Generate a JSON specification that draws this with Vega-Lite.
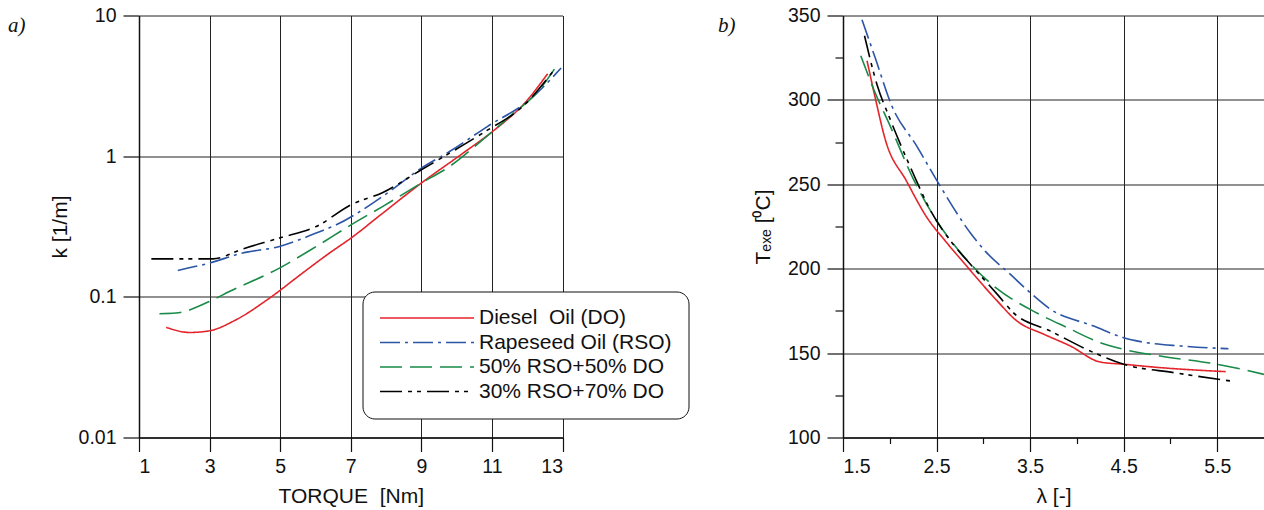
{
  "$schema": "https://vega.github.io/schema/vega-lite/v6.json",
  "background": "white",
  "padding": {"left": 8, "top": 5.5, "right": 0, "bottom": 0},
  "bounds": "flush",
  "spacing": 280,
  "config": {
    "font": "Liberation Sans",
    "view": {"stroke": null},
    "axis": {
      "labelFont": "Liberation Sans", "labelFontSize": 19.5, "labelColor": "#111",
      "titleFont": "Liberation Sans", "titleFontSize": 21, "titleFontWeight": "normal", "titleColor": "#111",
      "domainColor": "#111", "domainWidth": 1.5, "tickColor": "#111", "tickWidth": 1.2,
      "gridColor": "#222", "gridWidth": 1, "gridOpacity": 1, "labelPadding": 6
    },
    "legend": {
      "labelFont": "Liberation Sans", "labelFontSize": 21, "labelColor": "#111", "labelLimit": 400
    }
  },
  "datasets": {
    "torque": [
      {"series": "Diesel\u00a0 Oil (DO)", "torque": 1.77, "k": 0.0607},
      {"series": "Diesel\u00a0 Oil (DO)", "torque": 2.43, "k": 0.0558},
      {"series": "Diesel\u00a0 Oil (DO)", "torque": 3.0, "k": 0.0574},
      {"series": "Diesel\u00a0 Oil (DO)", "torque": 3.75, "k": 0.0687},
      {"series": "Diesel\u00a0 Oil (DO)", "torque": 4.7, "k": 0.098},
      {"series": "Diesel\u00a0 Oil (DO)", "torque": 5.64, "k": 0.148},
      {"series": "Diesel\u00a0 Oil (DO)", "torque": 6.4, "k": 0.205},
      {"series": "Diesel\u00a0 Oil (DO)", "torque": 7.01, "k": 0.262},
      {"series": "Diesel\u00a0 Oil (DO)", "torque": 7.91, "k": 0.394},
      {"series": "Diesel\u00a0 Oil (DO)", "torque": 9.0, "k": 0.644},
      {"series": "Diesel\u00a0 Oil (DO)", "torque": 10.18, "k": 1.05},
      {"series": "Diesel\u00a0 Oil (DO)", "torque": 11.02, "k": 1.5},
      {"series": "Diesel\u00a0 Oil (DO)", "torque": 11.97, "k": 2.45},
      {"series": "Diesel\u00a0 Oil (DO)", "torque": 12.58, "k": 3.86},
      {"series": "Rapeseed Oil (RSO)", "torque": 2.1, "k": 0.154},
      {"series": "Rapeseed Oil (RSO)", "torque": 3.0, "k": 0.174},
      {"series": "Rapeseed Oil (RSO)", "torque": 3.94, "k": 0.205},
      {"series": "Rapeseed Oil (RSO)", "torque": 4.98, "k": 0.228},
      {"series": "Rapeseed Oil (RSO)", "torque": 6.02, "k": 0.284},
      {"series": "Rapeseed Oil (RSO)", "torque": 6.59, "k": 0.325},
      {"series": "Rapeseed Oil (RSO)", "torque": 7.34, "k": 0.416},
      {"series": "Rapeseed Oil (RSO)", "torque": 8.1, "k": 0.561},
      {"series": "Rapeseed Oil (RSO)", "torque": 9.0, "k": 0.822},
      {"series": "Rapeseed Oil (RSO)", "torque": 9.8, "k": 1.08},
      {"series": "Rapeseed Oil (RSO)", "torque": 10.88, "k": 1.63},
      {"series": "Rapeseed Oil (RSO)", "torque": 12.07, "k": 2.52},
      {"series": "Rapeseed Oil (RSO)", "torque": 12.96, "k": 4.23},
      {"series": "50% RSO+50% DO", "torque": 1.58, "k": 0.0759},
      {"series": "50% RSO+50% DO", "torque": 2.05, "k": 0.0767},
      {"series": "50% RSO+50% DO", "torque": 3.0, "k": 0.0927},
      {"series": "50% RSO+50% DO", "torque": 3.56, "k": 0.109},
      {"series": "50% RSO+50% DO", "torque": 4.98, "k": 0.16},
      {"series": "50% RSO+50% DO", "torque": 6.02, "k": 0.228},
      {"series": "50% RSO+50% DO", "torque": 7.01, "k": 0.325},
      {"series": "50% RSO+50% DO", "torque": 7.91, "k": 0.44},
      {"series": "50% RSO+50% DO", "torque": 9.0, "k": 0.644},
      {"series": "50% RSO+50% DO", "torque": 9.8, "k": 0.845},
      {"series": "50% RSO+50% DO", "torque": 10.74, "k": 1.31},
      {"series": "50% RSO+50% DO", "torque": 11.5, "k": 1.91},
      {"series": "50% RSO+50% DO", "torque": 12.35, "k": 2.97},
      {"series": "50% RSO+50% DO", "torque": 12.77, "k": 4.16},
      {"series": "30% RSO+70% DO", "torque": 1.35, "k": 0.186},
      {"series": "30% RSO+70% DO", "torque": 3.09, "k": 0.186},
      {"series": "30% RSO+70% DO", "torque": 3.94, "k": 0.219},
      {"series": "30% RSO+70% DO", "torque": 4.98, "k": 0.262},
      {"series": "30% RSO+70% DO", "torque": 6.02, "k": 0.316},
      {"series": "30% RSO+70% DO", "torque": 7.01, "k": 0.452},
      {"series": "30% RSO+70% DO", "torque": 7.91, "k": 0.552},
      {"series": "30% RSO+70% DO", "torque": 9.0, "k": 0.8},
      {"series": "30% RSO+70% DO", "torque": 9.8, "k": 1.05},
      {"series": "30% RSO+70% DO", "torque": 10.74, "k": 1.46},
      {"series": "30% RSO+70% DO", "torque": 11.97, "k": 2.38},
      {"series": "30% RSO+70% DO", "torque": 12.73, "k": 4.0}
    ],
    "lambda": [
      {"series": "Diesel\u00a0 Oil (DO)", "lambda": 1.757, "T": 323.2},
      {"series": "Diesel\u00a0 Oil (DO)", "lambda": 1.845, "T": 301.1},
      {"series": "Diesel\u00a0 Oil (DO)", "lambda": 1.952, "T": 276.5},
      {"series": "Diesel\u00a0 Oil (DO)", "lambda": 2.18, "T": 251.8},
      {"series": "Diesel\u00a0 Oil (DO)", "lambda": 2.4, "T": 230.1},
      {"series": "Diesel\u00a0 Oil (DO)", "lambda": 2.6, "T": 216},
      {"series": "Diesel\u00a0 Oil (DO)", "lambda": 2.83, "T": 201},
      {"series": "Diesel\u00a0 Oil (DO)", "lambda": 3.13, "T": 182},
      {"series": "Diesel\u00a0 Oil (DO)", "lambda": 3.36, "T": 169},
      {"series": "Diesel\u00a0 Oil (DO)", "lambda": 3.65, "T": 161.1},
      {"series": "Diesel\u00a0 Oil (DO)", "lambda": 3.93, "T": 154.2},
      {"series": "Diesel\u00a0 Oil (DO)", "lambda": 4.25, "T": 144.7},
      {"series": "Diesel\u00a0 Oil (DO)", "lambda": 4.5, "T": 143.4},
      {"series": "Diesel\u00a0 Oil (DO)", "lambda": 4.89, "T": 141.4},
      {"series": "Diesel\u00a0 Oil (DO)", "lambda": 5.59, "T": 139.0},
      {"series": "Rapeseed Oil (RSO)", "lambda": 1.703, "T": 347.5},
      {"series": "Rapeseed Oil (RSO)", "lambda": 1.845, "T": 324.8},
      {"series": "Rapeseed Oil (RSO)", "lambda": 2.024, "T": 296.2},
      {"series": "Rapeseed Oil (RSO)", "lambda": 2.29, "T": 272.5},
      {"series": "Rapeseed Oil (RSO)", "lambda": 2.54, "T": 248.8},
      {"series": "Rapeseed Oil (RSO)", "lambda": 2.86, "T": 221.3},
      {"series": "Rapeseed Oil (RSO)", "lambda": 3.02, "T": 210.4},
      {"series": "Rapeseed Oil (RSO)", "lambda": 3.29, "T": 196.6},
      {"series": "Rapeseed Oil (RSO)", "lambda": 3.5, "T": 185.8},
      {"series": "Rapeseed Oil (RSO)", "lambda": 3.72, "T": 175.9},
      {"series": "Rapeseed Oil (RSO)", "lambda": 4.18, "T": 166},
      {"series": "Rapeseed Oil (RSO)", "lambda": 4.5, "T": 159.1},
      {"series": "Rapeseed Oil (RSO)", "lambda": 4.68, "T": 156.8},
      {"series": "Rapeseed Oil (RSO)", "lambda": 5.11, "T": 154.2},
      {"series": "Rapeseed Oil (RSO)", "lambda": 5.62, "T": 152.6},
      {"series": "50% RSO+50% DO", "lambda": 1.69, "T": 326.2},
      {"series": "50% RSO+50% DO", "lambda": 1.83, "T": 306},
      {"series": "50% RSO+50% DO", "lambda": 2.006, "T": 284.3},
      {"series": "50% RSO+50% DO", "lambda": 2.255, "T": 252.8},
      {"series": "50% RSO+50% DO", "lambda": 2.47, "T": 231.1},
      {"series": "50% RSO+50% DO", "lambda": 2.79, "T": 207.4},
      {"series": "50% RSO+50% DO", "lambda": 3.15, "T": 188},
      {"series": "50% RSO+50% DO", "lambda": 3.5, "T": 175.9},
      {"series": "50% RSO+50% DO", "lambda": 3.9, "T": 165},
      {"series": "50% RSO+50% DO", "lambda": 4.25, "T": 156.2},
      {"series": "50% RSO+50% DO", "lambda": 4.5, "T": 152.2},
      {"series": "50% RSO+50% DO", "lambda": 4.89, "T": 148.3},
      {"series": "50% RSO+50% DO", "lambda": 5.5, "T": 143.4},
      {"series": "50% RSO+50% DO", "lambda": 6.0, "T": 137.4},
      {"series": "30% RSO+70% DO", "lambda": 1.73, "T": 338},
      {"series": "30% RSO+70% DO", "lambda": 1.864, "T": 309},
      {"series": "30% RSO+70% DO", "lambda": 2.006, "T": 288.3},
      {"series": "30% RSO+70% DO", "lambda": 2.255, "T": 255.8},
      {"series": "30% RSO+70% DO", "lambda": 2.43, "T": 235},
      {"series": "30% RSO+70% DO", "lambda": 2.68, "T": 214.3},
      {"series": "30% RSO+70% DO", "lambda": 2.88, "T": 201.5},
      {"series": "30% RSO+70% DO", "lambda": 3.15, "T": 184.8},
      {"series": "30% RSO+70% DO", "lambda": 3.32, "T": 174},
      {"series": "30% RSO+70% DO", "lambda": 3.72, "T": 163},
      {"series": "30% RSO+70% DO", "lambda": 4.18, "T": 150.3},
      {"series": "30% RSO+70% DO", "lambda": 4.5, "T": 143.4},
      {"series": "30% RSO+70% DO", "lambda": 5.04, "T": 138.4},
      {"series": "30% RSO+70% DO", "lambda": 5.64, "T": 133.5}
    ]
  },
  "resolve": {"legend": {"color": "independent", "strokeDash": "independent", "strokeWidth": "independent"}},
  "hconcat": [
    {
      "width": 423.5,
      "height": 422,
      "title": {"text": "a)", "anchor": "start", "frame": "group", "font": "Liberation Serif", "fontStyle": "italic", "fontSize": 21, "fontWeight": "normal", "color": "#111", "dx": -131, "dy": 30, "offset": 0},
      "data": {"name": "torque"},
      "mark": {"type": "line", "interpolate": "monotone"},
      "encoding": {
        "x": {"field": "torque", "type": "quantitative", "scale": {"domain": [1, 13], "nice": false, "zero": false},
          "axis": {"values": [1, 3, 5, 7, 9, 11, 13], "title": "TORQUE\u00a0 [Nm]", "tickSize": 14, "titlePadding": 9}},
        "y": {"field": "k", "type": "quantitative", "scale": {"type": "log", "domain": [0.01, 10], "nice": false},
          "axis": {"values": [0.01, 0.1, 1, 10], "format": "~g", "title": "k [1/m]", "tickSize": 16, "labelPadding": 7, "titlePadding": 8}},
        "color": {"field": "series", "type": "nominal",
          "scale": {"domain": ["Diesel\u00a0 Oil (DO)", "Rapeseed Oil (RSO)", "50% RSO+50% DO", "30% RSO+70% DO"], "range": ["#e3242b", "#2b55a5", "#198a47", "#000000"]},
          "legend": {"orient": "none", "legendX": 223.5, "legendY": 276, "title": null, "symbolType": "stroke", "symbolSize": 8836, "clipHeight": 20, "labelOffset": 4, "rowPadding": 3.5, "padding": 16.5, "cornerRadius": 12, "strokeColor": "#111", "fillColor": "white"}},
        "strokeDash": {"field": "series", "type": "nominal",
          "scale": {"domain": ["Diesel\u00a0 Oil (DO)", "Rapeseed Oil (RSO)", "50% RSO+50% DO", "30% RSO+70% DO"], "range": [[1, 0], [20, 5, 3, 5], [22, 8], [22, 6, 4, 5, 4, 6]]},
          "legend": {"orient": "none", "legendX": 223.5, "legendY": 276, "title": null, "symbolType": "stroke", "symbolSize": 8836, "clipHeight": 20, "labelOffset": 4, "rowPadding": 3.5, "padding": 16.5, "cornerRadius": 12, "strokeColor": "#111", "fillColor": "white"}},
        "strokeWidth": {"field": "series", "type": "nominal",
          "scale": {"domain": ["Diesel\u00a0 Oil (DO)", "Rapeseed Oil (RSO)", "50% RSO+50% DO", "30% RSO+70% DO"], "range": [1.6, 1.6, 2, 3]},
          "legend": {"orient": "none", "legendX": 223.5, "legendY": 276, "title": null, "symbolType": "stroke", "symbolSize": 8836, "clipHeight": 20, "labelOffset": 4, "rowPadding": 3.5, "padding": 16.5, "cornerRadius": 12, "strokeColor": "#111", "fillColor": "white"}}
      }
    },
    {
      "width": 421,
      "height": 422,
      "title": {"text": "b)", "anchor": "start", "frame": "group", "font": "Liberation Serif", "fontStyle": "italic", "fontSize": 21, "fontWeight": "normal", "color": "#111", "dx": -125, "dy": 30, "offset": 0},
      "data": {"name": "lambda"},
      "mark": {"type": "line", "interpolate": "monotone"},
      "encoding": {
        "x": {"field": "lambda", "type": "quantitative", "scale": {"domain": [1.5, 6], "nice": false, "zero": false},
          "axis": {"values": [1.5, 2, 2.5, 3, 3.5, 4, 4.5, 5, 5.5], "labelExpr": "datum.value % 1 == 0 ? '' : format(datum.value, '.1f')",
            "tickSize": {"condition": {"test": "datum.value % 1 == 0", "value": 6}, "value": 14},
            "gridOpacity": {"condition": {"test": "datum.value % 1 == 0", "value": 0}, "value": 1},
            "title": "λ [-]", "titlePadding": 9}},
        "y": {"field": "T", "type": "quantitative", "scale": {"domain": [100, 350], "nice": false, "zero": false},
          "axis": {"values": [100, 125, 150, 175, 200, 225, 250, 275, 300, 325, 350], "labelExpr": "datum.value % 50 == 0 ? format(datum.value, 'd') : ''",
            "tickSize": {"condition": {"test": "datum.value % 50 != 0", "value": 8}, "value": 16},
            "gridOpacity": {"condition": {"test": "datum.value % 50 != 0", "value": 0}, "value": 1},
            "title": "Tₑₓₑ [⁰C]", "labelPadding": 7, "titlePadding": 13.5}},
        "color": {"field": "series", "type": "nominal",
          "scale": {"domain": ["Diesel\u00a0 Oil (DO)", "Rapeseed Oil (RSO)", "50% RSO+50% DO", "30% RSO+70% DO"], "range": ["#e3242b", "#2b55a5", "#198a47", "#000000"]},
          "legend": null},
        "strokeDash": {"field": "series", "type": "nominal",
          "scale": {"domain": ["Diesel\u00a0 Oil (DO)", "Rapeseed Oil (RSO)", "50% RSO+50% DO", "30% RSO+70% DO"], "range": [[1, 0], [20, 5, 3, 5], [22, 8], [22, 6, 4, 5, 4, 6]]},
          "legend": null},
        "strokeWidth": {"field": "series", "type": "nominal",
          "scale": {"domain": ["Diesel\u00a0 Oil (DO)", "Rapeseed Oil (RSO)", "50% RSO+50% DO", "30% RSO+70% DO"], "range": [1.6, 1.6, 2, 3]},
          "legend": null}
      }
    }
  ]
}
